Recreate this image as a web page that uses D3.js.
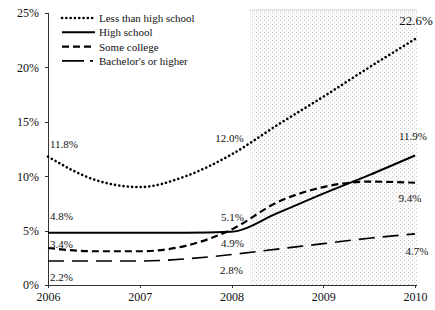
<!DOCTYPE html>
<html>
<head>
<meta charset="utf-8">
<style>
  body { margin: 0; background: #fff; }
  svg text { font-family: "Liberation Serif", "DejaVu Serif", serif; fill: #111; }
  .axis path, .axis line { stroke: #333; shape-rendering: crispEdges; }
</style>
</head>
<body>
<script src="https://cdnjs.cloudflare.com/ajax/libs/d3/7.8.5/d3.min.js"></script>
<script>
// data (half-year readings)
var periods  = [2006, 2006.5, 2007, 2007.5, 2008, 2008.5, 2009, 2009.5, 2010];
var lessHS   = [11.8, 9.7, 9.0, 10.0, 12.0, 14.7, 17.3, 20.0, 22.6];
var highSch  = [4.8, 4.8, 4.8, 4.8, 4.9, 6.6, 8.4, 10.1, 11.9];
var someCol  = [3.4, 3.1, 3.1, 3.6, 5.1, 7.6, 9.0, 9.5, 9.4];
var bachelor = [2.2, 2.2, 2.2, 2.4, 2.8, 3.3, 3.8, 4.3, 4.7];
var seriesNames = ["Less than high school", "High school", "Some college", "Bachelor's or higher"];
var xTicks = [2006, 2007, 2008, 2009, 2010];
var yTicks = [0, 5, 10, 15, 20, 25];
var shadeFrom = 2008.2;

var W = 435, H = 310;
var x = d3.scaleLinear().domain([2006, 2010]).range([48, 415]);
var y = d3.scaleLinear().domain([0, 25]).range([285, 13]);

var svg = d3.select("body").append("svg").attr("width", W).attr("height", H);

// stipple pattern for the shaded band
var defs = svg.append("defs");
var pat = defs.append("pattern").attr("id", "stip")
  .attr("width", 4).attr("height", 4).attr("patternUnits", "userSpaceOnUse");
pat.append("rect").attr("width", 4).attr("height", 4).attr("fill", "#fbfbfb");
pat.append("rect").attr("x", 0).attr("y", 0).attr("width", 1).attr("height", 1).attr("fill", "#c4c4c4");
pat.append("rect").attr("x", 2).attr("y", 2).attr("width", 1).attr("height", 1).attr("fill", "#dcdcdc");

svg.append("rect")
  .attr("x", x(shadeFrom)).attr("y", y(25) - 3)
  .attr("width", x(2010) - x(shadeFrom) + 2)
  .attr("height", y(0) - y(25) + 3)
  .attr("fill", "url(#stip)");
svg.append("line")
  .attr("x1", x(shadeFrom)).attr("x2", x(2010) + 2)
  .attr("y1", y(25) - 3).attr("y2", y(25) - 3)
  .attr("stroke", "#aaa").attr("stroke-dasharray", "1,1");

// axes
var gy = svg.append("g").attr("class", "axis").attr("transform", "translate(" + x(2006) + ",0)")
  .call(d3.axisLeft(y).tickValues(yTicks).tickSize(3).tickFormat(function(d) { return d + "%"; }));
gy.selectAll("text").attr("font-size", 12).attr("x", -9);
var gx = svg.append("g").attr("class", "axis").attr("transform", "translate(0," + y(0) + ")")
  .call(d3.axisBottom(x).tickValues(xTicks).tickSize(3).tickFormat(d3.format("d")));
gx.selectAll("text").attr("font-size", 12).attr("y", 7);
gx.select(".domain").attr("d", "M" + x(2006) + ",0.5H" + (x(2010) + 2));

// lines
var styles = [
  { w: 2.6, dash: "0.1,4.2", cap: "round" },
  { w: 2, dash: null, cap: "butt" },
  { w: 2.2, dash: "7,4", cap: "butt" },
  { w: 1.6, dash: "16,8", cap: "butt" }
];
var allSeries = [lessHS, highSch, someCol, bachelor];
var line = d3.line()
  .x(function(d, i) { return x(periods[i]); })
  .y(function(d) { return y(d); })
  .curve(d3.curveMonotoneX);

allSeries.forEach(function(s, k) {
  svg.append("path").datum(s)
    .attr("d", line)
    .attr("fill", "none")
    .attr("stroke", "#000")
    .attr("stroke-width", styles[k].w)
    .attr("stroke-linecap", styles[k].cap)
    .attr("stroke-dasharray", styles[k].dash);
});

// value labels
function fmt(v) { return v.toFixed(1) + "%"; }
var labels = [
  { s: 0, i: 0, dx: 2, dy: -9, a: "start" },
  { s: 1, i: 0, dx: 2, dy: -13, a: "start" },
  { s: 2, i: 0, dx: 2, dy: 0, a: "start" },
  { s: 3, i: 0, dx: 2, dy: 20, a: "start" },
  { s: 0, i: 4, dx: -2, dy: -12, a: "middle" },
  { s: 2, i: 4, dx: 1, dy: -9, a: "middle" },
  { s: 1, i: 4, dx: 1, dy: 15, a: "middle" },
  { s: 3, i: 4, dx: 0, dy: 19.5, a: "middle" },
  { s: 0, i: 8, dx: 1, dy: -14, a: "middle", fs: 13 },
  { s: 1, i: 8, dx: -2, dy: -16, a: "middle" },
  { s: 2, i: 8, dx: -5, dy: 19, a: "middle" },
  { s: 3, i: 8, dx: 2, dy: 21, a: "middle" }
];
labels.forEach(function(l) {
  var v = allSeries[l.s][l.i];
  svg.append("text")
    .attr("x", x(periods[l.i]) + l.dx)
    .attr("y", y(v) + l.dy)
    .attr("text-anchor", l.a)
    .attr("font-size", l.fs || 11)
    .text(fmt(v));
});

// legend
var lg = svg.append("g").attr("transform", "translate(62,18)");
seriesNames.forEach(function(n, k) {
  var row = lg.append("g").attr("transform", "translate(0," + (k * 14.3) + ")");
  row.append("line").attr("x1", 0).attr("x2", 33).attr("y1", 0).attr("y2", 0)
    .attr("stroke", "#000")
    .attr("stroke-width", styles[k].w)
    .attr("stroke-linecap", styles[k].cap)
    .attr("stroke-dasharray", k === 3 ? "22,6,3,20" : styles[k].dash);
  row.append("text").attr("x", 37).attr("y", 4).attr("font-size", 11).text(n);
});
</script>
</body>
</html>
